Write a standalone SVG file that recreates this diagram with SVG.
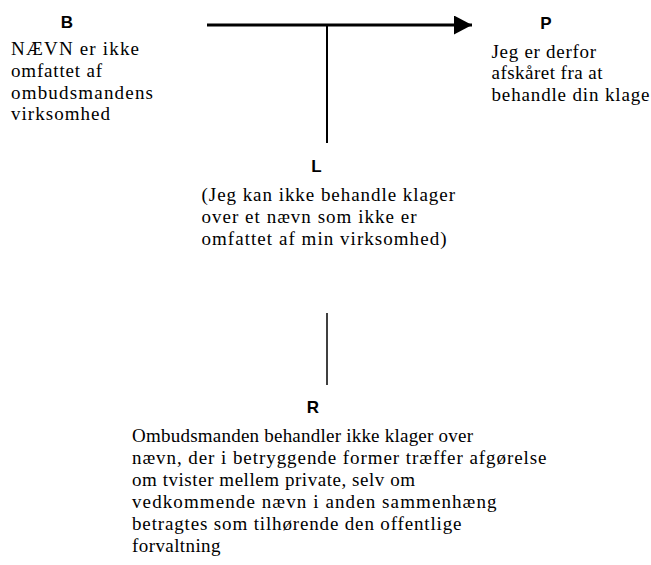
<svg xmlns="http://www.w3.org/2000/svg" width="651" height="565" viewBox="0 0 651 565">
<style>
.lbl{font-family:"Liberation Sans",Arial,sans-serif;font-weight:bold;font-size:17px;fill:#000;text-anchor:middle}
.txt{font-family:"Liberation Serif","Times New Roman",serif;font-size:19px;fill:#000}
.ln{stroke:#000;fill:none}
</style>
<defs>
<marker id="arr" markerUnits="userSpaceOnUse" markerWidth="18" markerHeight="19" refX="18" refY="9.5" orient="auto">
<path d="M0,0 L18,9.5 L0,19 Z" fill="#000"/>
</marker>
</defs>
<rect width="651" height="565" fill="#fff"/>
<g id="connectors">
<line class="ln" x1="207" y1="25" x2="472" y2="25" stroke-width="3" marker-end="url(#arr)"/>
<line class="ln" x1="327" y1="25" x2="327" y2="143" stroke-width="2"/>
<line class="ln" x1="327" y1="313" x2="327" y2="385" stroke-width="1.5"/>
</g>
<g id="node-B">
<text class="lbl" x="67" y="28">B</text>
<text class="txt" x="11" y="55" textLength="128" lengthAdjust="spacing">NÆVN er ikke</text>
<text class="txt" x="11" y="77" textLength="91" lengthAdjust="spacing">omfattet af</text>
<text class="txt" x="11" y="98.5" textLength="142" lengthAdjust="spacing">ombudsmandens</text>
<text class="txt" x="11" y="120" textLength="99" lengthAdjust="spacing">virksomhed</text>
</g>
<g id="node-P">
<text class="lbl" x="546" y="29">P</text>
<text class="txt" x="491.5" y="57.5" textLength="104.5" lengthAdjust="spacing">Jeg er derfor</text>
<text class="txt" x="491.5" y="79" textLength="111" lengthAdjust="spacing">afskåret fra at</text>
<text class="txt" x="491.5" y="100.5" textLength="158" lengthAdjust="spacing">behandle din klage</text>
</g>
<g id="node-L">
<text class="lbl" x="316.5" y="172">L</text>
<text class="txt" x="201.5" y="201" textLength="253.5" lengthAdjust="spacing">(Jeg kan ikke behandle klager</text>
<text class="txt" x="201.5" y="223" textLength="215" lengthAdjust="spacing">over et nævn som ikke er</text>
<text class="txt" x="201.5" y="244.5" textLength="245" lengthAdjust="spacing">omfattet af min virksomhed)</text>
</g>
<g id="node-R">
<text class="lbl" x="313" y="413">R</text>
<text class="txt" x="132" y="441.5" textLength="341" lengthAdjust="spacing">Ombudsmanden behandler ikke klager over</text>
<text class="txt" x="132" y="463.5" textLength="414.5" lengthAdjust="spacing">nævn, der i betryggende former træffer afgørelse</text>
<text class="txt" x="132" y="485.5" textLength="283" lengthAdjust="spacing">om tvister mellem private, selv om</text>
<text class="txt" x="132" y="507.5" textLength="364.5" lengthAdjust="spacing">vedkommende nævn i anden sammenhæng</text>
<text class="txt" x="132" y="529.5" textLength="329.5" lengthAdjust="spacing">betragtes som tilhørende den offentlige</text>
<text class="txt" x="132" y="551.5" textLength="88.5" lengthAdjust="spacing">forvaltning</text>
</g>
</svg>
